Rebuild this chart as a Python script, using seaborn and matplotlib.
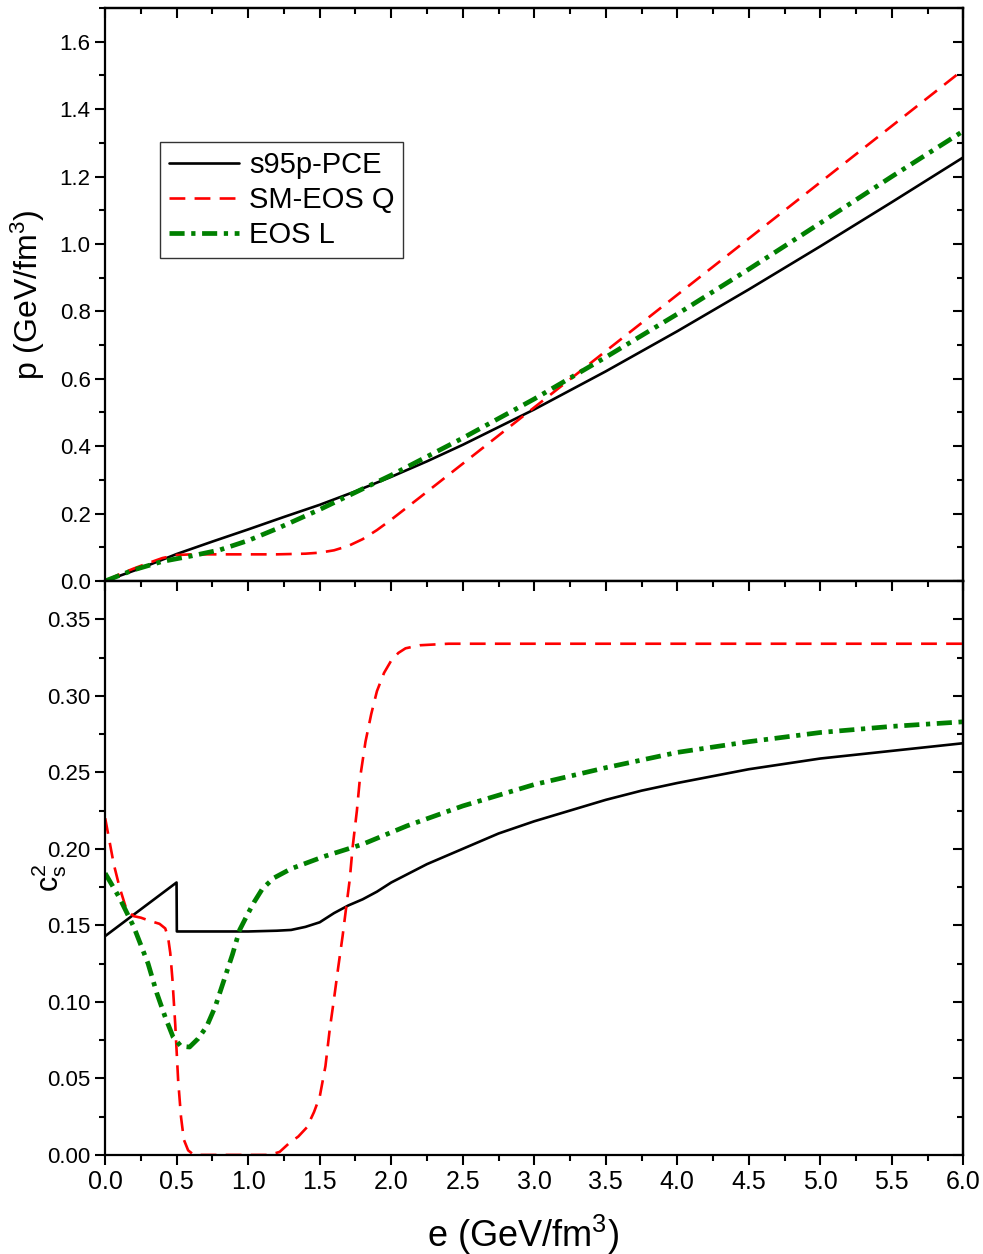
import matplotlib
matplotlib.use("Agg")
import matplotlib.pyplot as plt
from matplotlib.ticker import MultipleLocator
import seaborn as sns
import pandas as pd

# ---- data ----
# upper panel: pressure p (GeV/fm^3) vs energy density e
e_black_p = [0, 0.25, 0.5, 0.75, 1.0, 1.25, 1.5, 1.75, 2.0, 2.25, 2.5, 3.0, 3.5, 4.0, 4.5, 5.0, 5.5, 6.0]
p_black = [0, 0.038, 0.080, 0.117, 0.153, 0.190, 0.226, 0.266, 0.309, 0.355, 0.404, 0.509, 0.622, 0.741, 0.865, 0.993, 1.124, 1.257]

e_red_p = [0, 0.1, 0.2, 0.3, 0.4, 0.5, 0.6, 0.8, 1.0, 1.2, 1.3, 1.4, 1.5, 1.6, 1.7, 1.8, 1.9, 2.0, 2.1, 2.2,
           2.5, 3.0, 3.5, 4.0, 4.5, 5.0, 5.5, 6.0]
p_red = [0, 0.020, 0.037, 0.053, 0.068, 0.077, 0.079, 0.079, 0.079, 0.079, 0.080, 0.081, 0.084, 0.091, 0.104,
         0.124, 0.151, 0.182, 0.215, 0.248, 0.348, 0.515, 0.682, 0.849, 1.016, 1.183, 1.350, 1.517]

e_green_p = [0, 0.2, 0.4, 0.6, 0.8, 1.0, 1.2, 1.5, 2.0, 2.5, 3.0, 3.5, 4.0, 4.5, 5.0, 5.5, 6.0]
p_green = [0, 0.033, 0.058, 0.074, 0.092, 0.120, 0.155, 0.212, 0.314, 0.424, 0.540, 0.664, 0.792, 0.925,
           1.062, 1.200, 1.335]

# lower panel: speed of sound squared
e_black_c = [0, 0.499, 0.501, 0.8, 1.0, 1.2, 1.3, 1.4, 1.5, 1.6, 1.7, 1.8, 1.9, 2.0, 2.25, 2.5, 2.75, 3.0,
             3.25, 3.5, 3.75, 4.0, 4.5, 5.0, 5.5, 6.0]
c_black = [0.143, 0.178, 0.146, 0.146, 0.146, 0.1465, 0.147, 0.149, 0.152, 0.158, 0.163, 0.167, 0.172, 0.178,
           0.190, 0.200, 0.210, 0.218, 0.225, 0.232, 0.238, 0.243, 0.252, 0.259, 0.264, 0.269]

e_red_c = [0, 0.03, 0.06, 0.1, 0.15, 0.2, 0.25, 0.31, 0.38, 0.42, 0.44, 0.455, 0.47, 0.49, 0.51, 0.53, 0.55,
           0.58, 0.62, 0.8, 1.0, 1.15, 1.22, 1.29, 1.35, 1.41, 1.46, 1.5, 1.54, 1.57, 1.6, 1.63, 1.66, 1.68,
           1.71, 1.73, 1.76, 1.78, 1.82, 1.86, 1.9, 1.95, 2.0, 2.05, 2.1, 2.2, 2.4, 3.0, 6.0]
c_red = [0.22, 0.205, 0.19, 0.175, 0.16, 0.156, 0.155, 0.153, 0.151, 0.148, 0.142, 0.132, 0.115, 0.085, 0.049,
         0.025, 0.010, 0.003, 0.0, 0.0, 0.0, 0.0, 0.002, 0.008, 0.012, 0.018, 0.028, 0.038, 0.058, 0.082, 0.102,
         0.123, 0.143, 0.158, 0.18, 0.201, 0.225, 0.245, 0.27, 0.288, 0.303, 0.315, 0.323, 0.328, 0.331, 0.333,
         0.334, 0.334, 0.334]

e_green_c = [0, 0.1, 0.2, 0.3, 0.36, 0.42, 0.475, 0.53, 0.59, 0.65, 0.71, 0.77, 0.83, 0.89, 0.94, 1.0, 1.04,
             1.1, 1.18, 1.3, 1.53, 1.8, 2.11, 2.5, 3.0, 3.5, 4.0, 4.5, 5.0, 5.5, 6.0]
c_green = [0.184, 0.168, 0.149, 0.125, 0.106, 0.09, 0.077, 0.071, 0.0705, 0.076, 0.084, 0.097, 0.114, 0.131,
           0.147, 0.158, 0.165, 0.174, 0.181, 0.187, 0.195, 0.203, 0.215, 0.228, 0.242, 0.253, 0.263, 0.270,
           0.276, 0.280, 0.283]

labels = ["s95p-PCE", "SM-EOS Q", "EOS L"]

sns.set_style("ticks")
plt.rcParams["font.family"] = ["Liberation Sans", "DejaVu Sans"]
plt.rcParams["mathtext.fontset"] = "custom"
plt.rcParams["mathtext.rm"] = "Liberation Sans"
plt.rcParams["mathtext.it"] = "Liberation Sans"
for k in ("text.color", "axes.labelcolor", "xtick.color", "ytick.color", "axes.edgecolor"):
    plt.rcParams[k] = "black"

fig = plt.figure(figsize=(9.83, 12.54), dpi=100)
ax1 = fig.add_axes([0.107, 0.5367, 0.873, 0.4569])
ax2 = fig.add_axes([0.107, 0.079, 0.873, 0.4577])

styles = [
    dict(color="black", lw=1.9, ls="-"),
    dict(color="red", lw=1.9, ls=(0, (6, 3.5))),
    dict(color="green", lw=3.4, ls=(0, (3.2, 1.4, 0.9, 1.4))),
]

top = [(e_black_p, p_black), (e_red_p, p_red), (e_green_p, p_green)]
bot = [(e_black_c, c_black), (e_red_c, c_red), (e_green_c, c_green)]

for (x, y), lab, st in zip(top, labels, styles):
    df = pd.DataFrame({"e": x, "v": y})
    sns.lineplot(data=df, x="e", y="v", ax=ax1, estimator=None, sort=False, label=lab, **st)
for (x, y), lab, st in zip(bot, labels, styles):
    df = pd.DataFrame({"e": x, "v": y})
    sns.lineplot(data=df, x="e", y="v", ax=ax2, estimator=None, sort=False, legend=False, **st)

for ax in (ax1, ax2):
    ax.set_xlim(0, 6)
    ax.xaxis.set_major_locator(MultipleLocator(0.5))
    ax.xaxis.set_minor_locator(MultipleLocator(0.25))
    for s in ax.spines.values():
        s.set_visible(True)
        s.set_linewidth(1.6)
        s.set_color("black")
    ax.tick_params(which="both", width=1.5, direction="out", top=False, right=False)
    ax.tick_params(which="major", length=7)
    ax.tick_params(which="minor", length=4.5)

# top/right ticks point inward
for ax in (ax1, ax2):
    tw = ax.secondary_xaxis("top")
    tw.set_xticks(ax.get_xticks())
    tw.xaxis.set_minor_locator(MultipleLocator(0.25))
    tw.tick_params(which="both", direction="in", width=1.5, labeltop=False)
    tw.tick_params(which="major", length=7)
    tw.tick_params(which="minor", length=4.5)
    tw.spines["top"].set_linewidth(1.6)

ax1.set_ylim(0, 1.7)
ax1.yaxis.set_minor_locator(MultipleLocator(0.1))
ax1.set_yticks([0, 0.2, 0.4, 0.6, 0.8, 1.0, 1.2, 1.4, 1.6])
ax1.set_yticklabels(["0.0", "0.2", "0.4", "0.6", "0.8", "1.0", "1.2", "1.4", "1.6"], fontsize=16)
ax1.tick_params(axis="x", labelbottom=False)
ax1.set_xlabel("")
ax1.set_ylabel(r"p (GeV/fm$^3$)", fontsize=23)
ax1.yaxis.set_label_coords(-0.068, 0.5)

ax2.set_ylim(0, 0.375)
ax2.set_yticks([0, 0.05, 0.10, 0.15, 0.20, 0.25, 0.30, 0.35])
ax2.set_yticklabels(["0.00", "0.05", "0.10", "0.15", "0.20", "0.25", "0.30", "0.35"], fontsize=16)
ax2.yaxis.set_minor_locator(MultipleLocator(0.025))
ax2.set_xticks([0, 0.5, 1, 1.5, 2, 2.5, 3, 3.5, 4, 4.5, 5, 5.5, 6])
ax2.set_xticklabels(["0.0", "0.5", "1.0", "1.5", "2.0", "2.5", "3.0", "3.5", "4.0", "4.5", "5.0", "5.5", "6.0"],
                    fontsize=18)
ax2.set_xlabel(r"e (GeV/fm$^3$)", fontsize=26)
ax2.xaxis.set_label_coords(0.487, -0.1)
ax2.set_ylabel(r"c$_s^2$", fontsize=22)
ax2.yaxis.set_label_coords(-0.042, 0.483)

for ax in (ax1, ax2):
    ry = ax.secondary_yaxis("right")
    ry.set_yticks(ax.get_yticks())
    ry.yaxis.set_minor_locator(ax.yaxis.get_minor_locator())
    ry.tick_params(which="both", direction="in", width=1.5, labelright=False)
    ry.tick_params(which="major", length=7)
    ry.tick_params(which="minor", length=4.5)
    ry.spines["right"].set_linewidth(1.6)

leg = ax1.legend(loc="upper left", bbox_to_anchor=(0.064, 0.766), borderaxespad=0, fontsize=21,
                 frameon=True, fancybox=False, edgecolor="black", handlelength=2.4, handletextpad=0.35,
                 borderpad=0.3, labelspacing=0.25)
leg.get_frame().set_linewidth(1.0)

fig.savefig("out.png", dpi=100)
